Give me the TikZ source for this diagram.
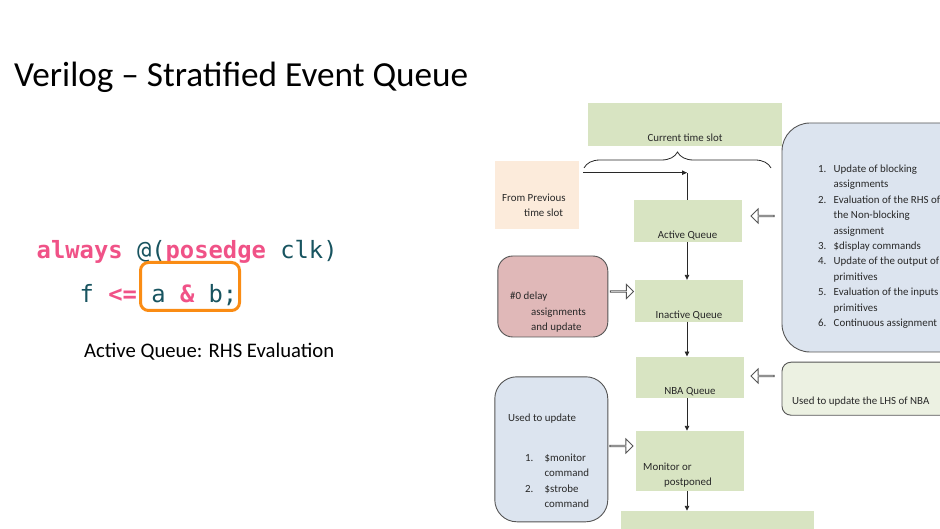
\documentclass[tikz,border=0pt]{standalone}
\usepackage{fontspec}
\setmainfont{Carlito}
\setmonofont{DejaVu Sans Mono}
\usetikzlibrary{arrows.meta,shapes.arrows,decorations.pathreplacing}

\definecolor{ink}{RGB}{40,40,40}
\definecolor{edge}{RGB}{85,85,85}
\definecolor{qgreen}{RGB}{216,228,194}
\definecolor{peach}{RGB}{252,235,219}
\definecolor{rosy}{RGB}{224,184,184}
\definecolor{paleblue}{RGB}{220,228,239}
\definecolor{palegreen}{RGB}{236,241,226}
\definecolor{codepink}{RGB}{240,82,135}
\definecolor{codeteal}{RGB}{24,84,96}
\definecolor{hilite}{RGB}{250,140,20}

% code colouring
\newcommand\vkw[1]{\textcolor{codepink}{\bfseries #1}}
\newcommand\vid[1]{\textcolor{codeteal}{#1}}
% stacked lines whose baseline is the first line
\newcommand\stack[1]{\begin{tabular}[t]{@{}l@{}}#1\end{tabular}}

\begin{document}
\begin{tikzpicture}[x=1pt,y=-1pt,
  queue/.style={fill=qgreen, draw=none, inner sep=0pt},
  txt/.style={font=\fontsize{10.9}{15.4}\selectfont, text=ink, inner sep=0pt},
  rbox/.style={draw=edge, line width=0.9pt, inner sep=0pt},
  flow/.style={draw=ink, line width=0.9pt, -{Triangle[length=5pt,width=4.5pt]}},
  harrow/.style={single arrow, draw=edge, fill=white, line width=0.9pt,
    inner sep=0pt, minimum height=23pt, minimum width=14pt,
    single arrow head extend=3.5pt},
]
\useasboundingbox (0,0) rectangle (940,529);
\clip (0,0) rectangle (940,529);

% ---------- title ----------
\node[anchor=base west, inner sep=0pt, font=\fontsize{35.2}{40}\selectfont] (title)
  at (14,87) {Verilog – Stratified Event Queue};

% ---------- code ----------
\node[anchor=base west, inner sep=0pt, font=\ttfamily\fontsize{23.8}{28}\selectfont] (code1)
  at (36.5,259) {\vkw{always} \vid{@(}\vkw{posedge} \vid{clk)}};
\node[anchor=base west, inner sep=0pt, font=\ttfamily\fontsize{23.8}{28}\selectfont] (code2)
  at (79.5,303) {\vid{f} \vkw{<=} \vid{a} \vkw{\&} \vid{b;}};
\node[draw=hilite, line width=3pt, rounded corners=8pt, inner sep=0pt,
  minimum width=99pt, minimum height=48pt] (rhs) at (190,286.5) {};
\node[anchor=base west, inner sep=0pt, font=\fontsize{20.7}{24}\selectfont] (caption)
  at (84,358) {Active Queue: RHS Evaluation};

% ---------- time slot ----------
\node[queue, minimum width=194pt, minimum height=43pt] (cur) at (685,124.7) {};
\node[txt, anchor=base] (curtxt) at (685,141.5) {Current time slot};
\draw[draw=ink, line width=0.8pt, decorate, decoration={brace, amplitude=16pt}]
  (584,168) -- (771,168);

\node[fill=peach, inner sep=0pt, minimum width=84pt, minimum height=68pt] (prev) at (537,195) {};
\node[txt, anchor=base west] (prevtxt) at (502,201.5)
  {\stack{From Previous\\\hspace{22pt}time slot}};

% ---------- queues ----------
\coordinate (spine) at (687,0);
\node[queue, minimum width=108pt, minimum height=42pt] (active) at (687.5,221.2) {};
\node[txt, anchor=base] (activetxt) at (687.5,239) {Active Queue};
\node[queue, minimum width=108pt, minimum height=41.5pt] (inactive) at (689,300.8) {};
\node[txt, anchor=base] (inactivetxt) at (689,318.5) {Inactive Queue};
\node[queue, minimum width=108pt, minimum height=41.5pt] (nba) at (690,377.5) {};
\node[txt, anchor=base] (nbatxt) at (690,395) {NBA Queue};
\node[queue, minimum width=108pt, minimum height=60pt] (mon) at (690,461) {};
\node[txt, anchor=base west] (montxt) at (643,470.5)
  {\stack{Monitor or\\\hspace{21pt}postponed}};
\node[queue, minimum width=193pt, minimum height=30pt] (next) at (717.5,526) {};

% flow between the queues
\coordinate (join) at (spine |- 0,172.7);
\draw[flow] ([xshift=4pt]prev.east |- join) -- (join);
\draw[draw=ink, line width=0.9pt] (active.north -| spine) -- (join);
\draw[flow] (active.south -| spine) -- (inactive.north -| spine);
\draw[flow] (inactive.south -| spine) -- (nba.north -| spine);
\draw[flow] (nba.south -| spine) -- (mon.north -| spine);
\draw[flow] (mon.south -| spine) -- (next.north -| spine);

% ---------- side notes ----------
\node[rbox, fill=paleblue, rounded corners=28pt, minimum width=200pt, minimum height=229pt]
  (active notes) at (882,237.5) {};
\node[txt, anchor=base west] (activelist) at (818,172.5) {%
  \begin{tabular}[t]{@{}p{15.5pt}@{}l@{}}
  1. & Update of blocking\\
     & assignments\\
  2. & Evaluation of the RHS of\\
     & the Non-blocking\\
     & assignment\\
  3. & \$display commands\\
  4. & Update of the output of\\
     & primitives\\
  5. & Evaluation of the inputs\\
     & primitives\\
  6. & Continuous assignment
  \end{tabular}};

\node[rbox, fill=rosy, rounded corners=15pt, minimum width=110pt, minimum height=81pt]
  (delay) at (552.8,296.5) {};
\node[txt, anchor=base west] (delaytxt) at (510,300)
  {\stack{\#0 delay\\\hspace{21pt}assignments\\\hspace{21pt}and update}};

\node[rbox, fill=palegreen, rounded corners=9pt, minimum width=180pt, minimum height=53pt]
  (lhs) at (872,388.7) {};
\node[txt, anchor=base west] (lhstxt) at (792,404.5) {Used to update the LHS of NBA};

\node[rbox, fill=paleblue, rounded corners=22pt, minimum width=113pt, minimum height=145pt]
  (strobe) at (551.3,449.3) {};
\node[txt, anchor=base west] (strobehead) at (508,421.5) {Used to update};
\node[txt, anchor=base west, font=\fontsize{10.9}{15.6}\selectfont] (strobelist) at (525,461) {%
  \begin{tabular}[t]{@{}p{19.5pt}@{}l@{}}
  1. & \$monitor\\
     & command\\
  2. & \$strobe\\
     & command
  \end{tabular}};

% hollow arrows feeding the queues
\node[harrow, shape border rotate=180] (feedactive) at (763,216) {};
\node[harrow] (feedinactive) at (621.5,291.5) {};
\node[harrow, shape border rotate=180] (feednba) at (763,376) {};
\node[harrow] (feedmon) at (621,446) {};

\end{tikzpicture}
\end{document}
